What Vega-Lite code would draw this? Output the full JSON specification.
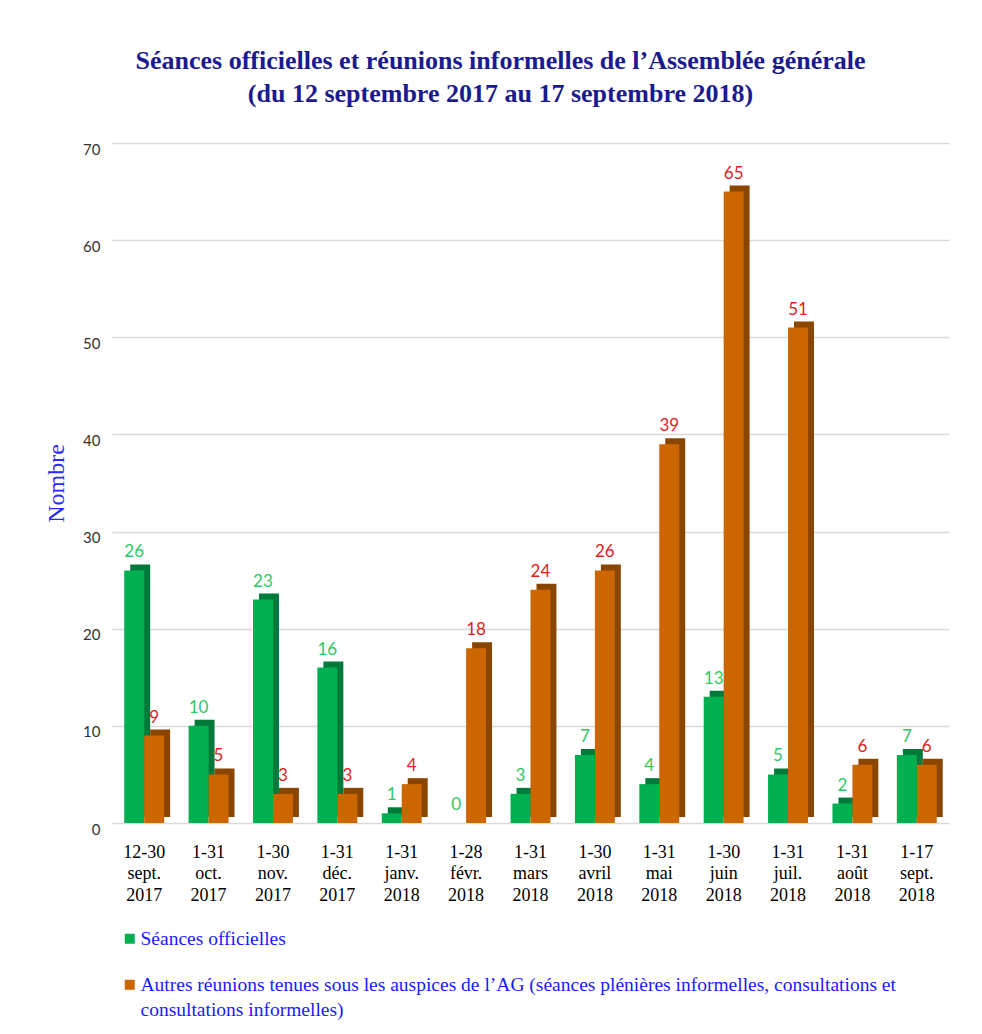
{
  "$schema": "https://vega.github.io/schema/vega-lite/v6.json",
  "width": 837,
  "height": 680,
  "autosize": {"type": "none"},
  "padding": {"left": 112, "top": 143, "right": 33, "bottom": 211},
  "background": "white",
  "config": {"view": {"stroke": null}, "style": {"guide-label": {"lineHeight": 25}}},
  "title": {
    "text": ["Séances officielles et réunions informelles de l’Assemblée générale", "(du 12 septembre 2017 au 17 septembre 2018)"],
    "font": "Liberation Serif",
    "fontSize": 26,
    "fontWeight": "bold",
    "color": "#1b1b8f",
    "lineHeight": 33,
    "anchor": "middle",
    "dx": -30,
    "offset": 35
  },
  "data": {
    "values": [
      {"periode": "12-30|sept.|2017", "serie": "Séances officielles", "nombre": 26},
      {"periode": "1-31|oct.|2017", "serie": "Séances officielles", "nombre": 10},
      {"periode": "1-30|nov.|2017", "serie": "Séances officielles", "nombre": 23},
      {"periode": "1-31|déc.|2017", "serie": "Séances officielles", "nombre": 16},
      {"periode": "1-31|janv.|2018", "serie": "Séances officielles", "nombre": 1},
      {"periode": "1-28|févr.|2018", "serie": "Séances officielles", "nombre": 0},
      {"periode": "1-31|mars|2018", "serie": "Séances officielles", "nombre": 3},
      {"periode": "1-30|avril|2018", "serie": "Séances officielles", "nombre": 7},
      {"periode": "1-31|mai|2018", "serie": "Séances officielles", "nombre": 4},
      {"periode": "1-30|juin|2018", "serie": "Séances officielles", "nombre": 13},
      {"periode": "1-31|juil.|2018", "serie": "Séances officielles", "nombre": 5},
      {"periode": "1-31|août|2018", "serie": "Séances officielles", "nombre": 2},
      {"periode": "1-17|sept.|2018", "serie": "Séances officielles", "nombre": 7},
      {"periode": "12-30|sept.|2017", "serie": "Autres réunions", "nombre": 9},
      {"periode": "1-31|oct.|2017", "serie": "Autres réunions", "nombre": 5},
      {"periode": "1-30|nov.|2017", "serie": "Autres réunions", "nombre": 3},
      {"periode": "1-31|déc.|2017", "serie": "Autres réunions", "nombre": 3},
      {"periode": "1-31|janv.|2018", "serie": "Autres réunions", "nombre": 4},
      {"periode": "1-28|févr.|2018", "serie": "Autres réunions", "nombre": 18},
      {"periode": "1-31|mars|2018", "serie": "Autres réunions", "nombre": 24},
      {"periode": "1-30|avril|2018", "serie": "Autres réunions", "nombre": 26},
      {"periode": "1-31|mai|2018", "serie": "Autres réunions", "nombre": 39},
      {"periode": "1-30|juin|2018", "serie": "Autres réunions", "nombre": 65},
      {"periode": "1-31|juil.|2018", "serie": "Autres réunions", "nombre": 51},
      {"periode": "1-31|août|2018", "serie": "Autres réunions", "nombre": 6},
      {"periode": "1-17|sept.|2018", "serie": "Autres réunions", "nombre": 6}
    ]
  },
  "encoding": {
    "x": {
      "field": "periode",
      "type": "nominal",
      "sort": null,
      "scale": {"paddingInner": 0.38, "paddingOuter": 0.19},
      "axis": {
        "title": null,
        "labelAngle": 0,
        "labelExpr": "split(datum.label, '|')",
        "labelFont": "Liberation Serif",
        "labelFontSize": 18,
        "labelLineHeight": 21.5,
        "labelColor": "#000000",
        "labelPadding": 20,
        "domain": false,
        "ticks": false,
        "grid": false
      }
    },
    "y": {
      "field": "nombre",
      "type": "quantitative",
      "scale": {"domain": [0, 70], "nice": false},
      "axis": {
        "title": "Nombre",
        "titleFont": "Liberation Serif",
        "titleFontSize": 24,
        "titleFontWeight": "normal",
        "titleColor": "#2a2aff",
        "titlePadding": 14,
        "values": [0, 10, 20, 30, 40, 50, 60, 70],
        "labelFont": "Lato",
        "labelFontSize": 15,
        "labelColor": "#333333",
        "labelPadding": 12,
        "labelOffset": 6,
        "domain": false,
        "ticks": false,
        "grid": true,
        "gridColor": "#d9d9d9",
        "gridWidth": 1.5
      }
    }
  },
  "layer": [
    {
      "mark": {"type": "bar", "yOffset": -6, "y2Offset": 0},
      "encoding": {
        "xOffset": {
          "field": "serie",
          "type": "nominal",
          "sort": ["Séances officielles", "Autres réunions"],
          "scale": {"range": [6, 45.9]}
        },
        "color": {
          "field": "serie",
          "type": "nominal",
          "scale": {"domain": ["Séances officielles", "Autres réunions"], "range": ["#007a3a", "#8a4500"]},
          "legend": null
        }
      }
    },
    {
      "mark": {"type": "bar"},
      "encoding": {
        "xOffset": {"field": "serie", "type": "nominal", "sort": ["Séances officielles", "Autres réunions"]},
        "color": {
          "field": "serie",
          "type": "nominal",
          "scale": {"domain": ["Séances officielles", "Autres réunions"], "range": ["#00b050", "#cc6600"]},
          "legend": {
            "title": null,
            "orient": "none",
            "legendX": 8,
            "legendY": 786,
            "direction": "vertical",
            "symbolType": "square",
            "symbolSize": 100,
            "symbolStrokeWidth": 0,
            "labelFont": "Liberation Serif",
            "labelFontSize": 19.5,
            "labelColor": "#1a1aff",
            "labelLimit": 900,
            "labelOffset": 1,
            "rowPadding": 25,
            "padding": 0,
            "labelExpr": "datum.label == 'Séances officielles' ? datum.label : ['Autres réunions tenues sous les auspices de l’AG (séances plénières informelles,  consultations et', 'consultations informelles)']"
          }
        }
      }
    },
    {
      "mark": {"type": "text", "baseline": "bottom", "dy": -9, "font": "Lato", "fontSize": 17},
      "encoding": {
        "xOffset": {"field": "serie", "type": "nominal", "sort": ["Séances officielles", "Autres réunions"]},
        "text": {"field": "nombre", "type": "quantitative"},
        "color": {
          "condition": {"test": "datum.serie == 'Séances officielles'", "value": "#2ec866"},
          "value": "#dd2222"
        }
      }
    }
  ],
  "resolve": {"scale": {"color": "independent", "xOffset": "independent"}}
}
